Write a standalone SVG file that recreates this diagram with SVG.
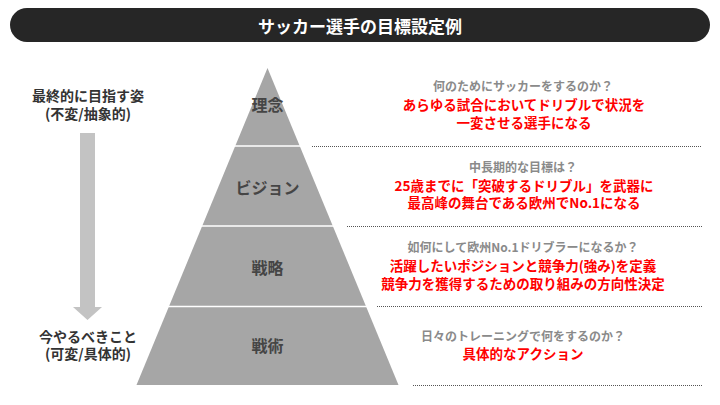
<svg xmlns="http://www.w3.org/2000/svg" width="720" height="405" viewBox="0 0 720 405">
<style>
text{font-family:"Noto Sans CJK JP","Noto Sans",sans-serif;text-anchor:middle;dominant-baseline:central}
.title{fill:#fff;font-size:17px;font-weight:700}
.lvl{fill:#454545;font-size:16px;font-weight:700}
.q{fill:#8a8a8a;font-size:12px;font-weight:700}
.a{fill:#ff0000;font-size:13.5px;font-weight:700}
.side{fill:#333;font-size:14px;font-weight:700}
.dash{stroke:#555;stroke-width:1;stroke-dasharray:1 1;fill:none}
.div{stroke:#fff;stroke-width:1.5}
</style>
<rect width="720" height="405" fill="#fff"/>
<g id="title">
<rect x="10" y="8" width="700" height="34" rx="17" fill="#262626"/>
<text class="title" x="360" y="25.5">サッカー選手の目標設定例</text>
</g>
<g id="side">
<text class="side" x="88" y="95">最終的に目指す姿</text>
<text class="side" x="88" y="113">(不変/抽象的)</text>
<path d="M80 133 H95 V307 H102 L87.5 320 L73 307 H80 Z" fill="#c3c3c3"/>
<text class="side" x="88" y="336">今やるべきこと</text>
<text class="side" x="88" y="353">(可変/具体的)</text>
</g>
<g id="pyramid">
<polygon points="267.5,68 398.5,385 136.5,385" fill="#a6a6a6"/>
<line class="div" x1="230" y1="146" x2="305" y2="146"/>
<line class="div" x1="190" y1="226" x2="345" y2="226"/>
<line class="div" x1="150" y1="306.5" x2="385" y2="306.5"/>
</g>
<g id="connectors">
<line class="dash" x1="312" y1="146.5" x2="702" y2="146.5"/>
<line class="dash" x1="347" y1="226.5" x2="702" y2="226.5"/>
<line class="dash" x1="377" y1="306.5" x2="702" y2="306.5"/>
<line class="dash" x1="413" y1="385.5" x2="702" y2="385.5"/>
</g>
<g id="node-rinen">
<text class="lvl" x="267.5" y="104">理念</text>
<text class="q" x="523" y="85">何のためにサッカーをするのか？</text>
<text class="a" x="524" y="104">あらゆる試合においてドリブルで状況を</text>
<text class="a" x="524" y="121.5">一変させる選手になる</text>
</g>
<g id="node-vision">
<text class="lvl" x="267.5" y="187">ビジョン</text>
<text class="q" x="523" y="166">中長期的な目標は？</text>
<text class="a" x="524" y="185">25歳までに「突破するドリブル」を武器に</text>
<text class="a" x="524" y="201.5">最高峰の舞台である欧州でNo.1になる</text>
</g>
<g id="node-senryaku">
<text class="lvl" x="267.5" y="267">戦略</text>
<text class="q" x="523" y="246.5">如何にして欧州No.1ドリブラーになるか？</text>
<text class="a" x="523" y="265">活躍したいポジションと競争力(強み)を定義</text>
<text class="a" x="523" y="282.5">競争力を獲得するための取り組みの方向性決定</text>
</g>
<g id="node-senjutsu">
<text class="lvl" x="267.5" y="345">戦術</text>
<text class="q" x="523" y="335">日々のトレーニングで何をするのか？</text>
<text class="a" x="523" y="353">具体的なアクション</text>
</g>
</svg>
